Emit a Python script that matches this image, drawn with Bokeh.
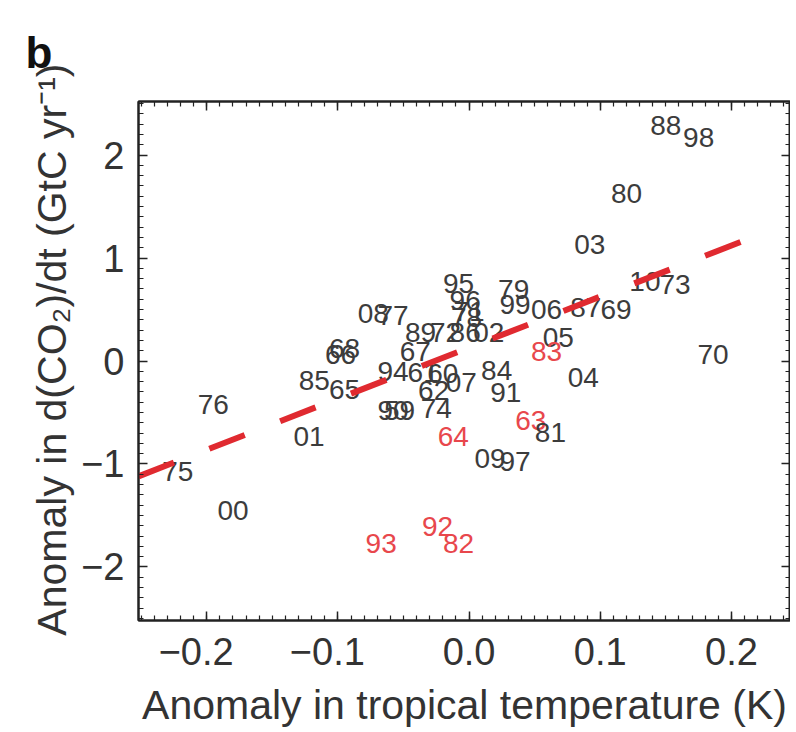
from bokeh.plotting import figure
from bokeh.models import ColumnDataSource, LinearAxis, FixedTicker
from bokeh.core.properties import value
from bokeh.embed import file_html
from bokeh.resources import INLINE

# year labels (two-digit), tropical temperature anomaly (K), CO2 growth anomaly (GtC/yr)
years = ["00", "01", "02", "03", "04", "05", "06", "07", "08", "09", "10",
         "59", "60", "61", "62", "63", "64", "65", "66", "67", "68", "69",
         "70", "71", "72", "73", "74", "75", "76", "77", "78", "79",
         "80", "81", "82", "83", "84", "85", "86", "87", "88", "89",
         "90", "91", "92", "93", "94", "95", "96", "97", "98", "99"]
temp_anom = [-0.180, -0.122, 0.015, 0.092, 0.087, 0.068, 0.059, -0.006, -0.073, 0.016, 0.134,
             -0.053, -0.020, -0.035, -0.027, 0.047, -0.012, -0.095, -0.098, -0.041, -0.095, 0.112,
             0.186, 0.000, -0.018, 0.157, -0.025, -0.222, -0.195, -0.058, -0.002, 0.034,
             0.120, 0.062, -0.008, 0.059, 0.021, -0.118, -0.003, 0.089, 0.150, -0.037,
             -0.058, 0.028, -0.024, -0.067, -0.058, -0.008, -0.003, 0.035, 0.175, 0.035]
co2_anom = [-1.45, -0.73, 0.28, 1.13, -0.16, 0.23, 0.50, -0.21, 0.46, -0.95, 0.77,
            -0.48, -0.12, -0.11, -0.29, -0.58, -0.73, -0.28, 0.06, 0.09, 0.12, 0.50,
            0.06, 0.48, 0.28, 0.74, -0.46, -1.07, -0.42, 0.44, 0.42, 0.69,
            1.63, -0.69, -1.77, 0.09, -0.09, -0.19, 0.28, 0.52, 2.29, 0.28,
            -0.48, -0.31, -1.61, -1.77, -0.10, 0.75, 0.59, -0.98, 2.17, 0.55]
volcanic = ["63", "64", "82", "83", "92", "93"]

# regression line end points
fit_x = [-0.252, 0.228]
fit_y = [-1.12, 1.26]

x_ticks = [-0.2, -0.1, 0.0, 0.1, 0.2]
x_tick_labels = {-0.2: "\u22120.2\u2007", -0.1: "\u22120.1\u2007", 0.0: "0.0", 0.1: "0.1", 0.2: "0.2"}
y_ticks = [-2, -1, 0, 1, 2]
y_tick_labels = {-2: "\u22122", -1: "\u22121", 0: "0", 1: "1", 2: "2"}
x_minor = [round(-0.25 + 0.01 * i, 3) for i in range(50)]
y_minor = [round(-2.5 + 0.1 * i, 2) for i in range(51)]

FONT = "Liberation Sans"
GREY = "#3c3c3c"
RED = "#e8474c"

colors = [RED if y in volcanic else GREY for y in years]
src = ColumnDataSource(dict(x=temp_anom, y=co2_anom, t=years, c=colors))

p = figure(width=790, height=730, x_range=(-0.252, 0.245), y_range=(-2.52, 2.52),
           output_backend="svg", toolbar_location=None,
           min_border_left=138, min_border_right=0, min_border_top=101, min_border_bottom=110,
           x_axis_location=None, y_axis_location=None)
p.grid.visible = False
p.outline_line_color = "#222222"
p.outline_line_width = 2
p.background_fill_color = "white"
p.border_fill_color = "white"

p.title.text = "b"
p.title.align = "left"
p.title.offset = -113
p.title.text_font = FONT
p.title.text_font_size = "44px"
p.title.text_font_style = "bold"
p.title.text_color = "#111111"
p.title.standoff = 50


def style_axis(ax, show_labels):
    ax.major_tick_in = 9
    ax.major_tick_out = 0
    ax.minor_tick_in = 5
    ax.minor_tick_out = 0
    ax.axis_line_color = "#222222"
    ax.axis_line_width = 2
    ax.major_tick_line_color = "#222222"
    ax.major_tick_line_width = 1.5
    ax.minor_tick_line_color = "#222222"
    ax.minor_tick_line_width = 1.2
    ax.major_label_text_font = FONT
    ax.major_label_text_font_size = "38px"
    ax.major_label_text_color = "#333333"
    ax.axis_label_text_font = FONT
    ax.axis_label_text_font_size = "41px"
    ax.axis_label_text_font_style = "normal"
    ax.axis_label_text_color = "#333333"
    if not show_labels:
        ax.major_label_text_color = None
        ax.major_label_text_font_size = "0px"
        ax.major_label_standoff = 0


xb = LinearAxis(axis_label="Anomaly in tropical temperature (K)")
xb.ticker = FixedTicker(ticks=x_ticks, minor_ticks=x_minor)
xb.major_label_overrides = x_tick_labels
style_axis(xb, True)
xb.major_label_standoff = 10
xb.axis_label_standoff = 6
p.add_layout(xb, "below")

yl = LinearAxis(axis_label="\u2007Anomaly in d(CO\u2082)/dt (GtC yr\u207b\u00b9)")
yl.ticker = FixedTicker(ticks=y_ticks, minor_ticks=y_minor)
yl.major_label_overrides = y_tick_labels
style_axis(yl, True)
yl.major_label_standoff = 14
yl.axis_label_standoff = 3
p.add_layout(yl, "left")

xt = LinearAxis()
xt.ticker = FixedTicker(ticks=x_ticks, minor_ticks=x_minor)
style_axis(xt, False)
p.add_layout(xt, "above")

yr = LinearAxis()
yr.ticker = FixedTicker(ticks=y_ticks, minor_ticks=y_minor)
style_axis(yr, False)
p.add_layout(yr, "right")

p.text(x="x", y="y", text="t", source=src, text_color="c",
       text_font=value(FONT), text_font_size="28px",
       text_align="center", text_baseline="middle")

p.line(fit_x, fit_y, line_color="#e02a30", line_width=6, line_dash="38 38")

open("out.html", "w").write(file_html(p, INLINE))
